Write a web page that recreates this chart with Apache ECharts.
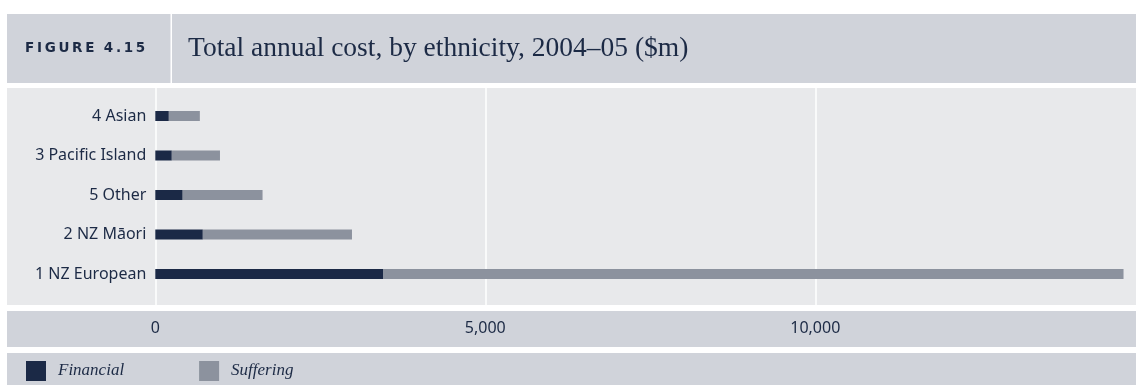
<!DOCTYPE html>
<html>
<head>
<meta charset="utf-8">
<script src="https://cdn.jsdelivr.net/npm/echarts@6/dist/echarts.min.js"></script>
<style>
  html, body { margin: 0; padding: 0; background: #ffffff; overflow: hidden; }
  #chart { width: 1160px; height: 385px; }
</style>
</head>
<body>
<div id="chart"></div>
<script>
// Total annual cost by ethnicity, 2004–05 ($m), split into financial and suffering costs
const categories = ['1 NZ European', '2 NZ Māori', '5 Other', '3 Pacific Island', '4 Asian'];
const financial = [3450, 720, 415, 250, 205];
const suffering = [11220, 2260, 1210, 730, 470];
const seriesNames = ['Financial', 'Suffering'];
const xTicks = { min: 0, max: 15000, interval: 5000 };

const navy = '#1b2946';
const grey = '#8c929e';
const bandBg = '#d0d3da';
const plotBg = '#e8e9eb';
const ink = '#1c2a45';

const chart = echarts.init(document.getElementById('chart'), null, { renderer: 'canvas' });

// the plot runs past the visible right edge so the 15,000 gridline stays out of view
const plotLeft = 155.3;
const pxPerUnit = 330 / 5000;
const plotWidth = xTicks.max * pxPerUnit;
const bandWidth = 1160 - 7;

const option = {
  animation: false,
  backgroundColor: '#ffffff',
  graphic: [
    // header band with divider
    { type: 'rect', z: -10, shape: { x: 7, y: 14, width: bandWidth, height: 69 }, style: { fill: bandBg } },
    { type: 'rect', z: -9, shape: { x: 170.5, y: 14, width: 1.5, height: 69 }, style: { fill: '#ffffff' } },
    { type: 'text', z: 5, left: 25, top: 41, style: {
        text: 'F\u2009I\u2009G\u2009U\u2009R\u2009E\u2002\u20094\u2009.\u20091\u20095',
        font: 'bold 13.5px "DejaVu Sans"', fill: ink } },
    { type: 'text', z: 5, left: 188, top: 34.5, style: {
        text: 'Total annual cost, by ethnicity, 2004–05 ($m)',
        font: '27.5px "Liberation Serif"', fill: ink } },
    // plot band
    { type: 'rect', z: -10, shape: { x: 7, y: 88, width: bandWidth, height: 217 }, style: { fill: plotBg } },
    // axis band
    { type: 'rect', z: -10, shape: { x: 7, y: 311, width: bandWidth, height: 36 }, style: { fill: bandBg } },
    // legend band
    { type: 'rect', z: -10, shape: { x: 7, y: 353, width: bandWidth, height: 32 }, style: { fill: bandBg } }
  ],
  grid: [
    { left: plotLeft, top: 96.25, width: plotWidth, height: 197.5, containLabel: false },
    { left: plotLeft, top: 88, width: plotWidth, height: 217, containLabel: false }
  ],
  xAxis: [
    { type: 'value', gridIndex: 0, min: xTicks.min, max: xTicks.max, interval: xTicks.interval, show: false },
    { type: 'value', gridIndex: 1, min: xTicks.min, max: xTicks.max, interval: xTicks.interval,
      axisLine: { show: false }, axisTick: { show: false },
      splitLine: { show: true, lineStyle: { color: '#ffffff', width: 1.5 } },
      axisLabel: { margin: 15, showMaxLabel: false, color: ink, fontSize: 16, fontFamily: '"Noto Sans"',
        formatter: v => v.toLocaleString('en-US') } }
  ],
  yAxis: [
    { type: 'category', gridIndex: 0, data: categories,
      axisLine: { show: false }, axisTick: { show: false }, splitLine: { show: false },
      axisLabel: { margin: 9, color: ink, fontSize: 16, fontFamily: '"Noto Sans"' } },
    { type: 'value', gridIndex: 1, show: false, min: 0, max: 1 }
  ],
  legend: {
    left: 21, top: 356, itemWidth: 20, itemHeight: 20, itemGap: 75, icon: 'rect',
    data: seriesNames,
    textStyle: { color: ink, fontSize: 17, fontStyle: 'italic', fontFamily: '"Liberation Serif"', padding: [0, 0, 0, 7] }
  },
  series: [
    { name: seriesNames[0], type: 'bar', xAxisIndex: 0, yAxisIndex: 0, stack: 'cost', barWidth: 10,
      itemStyle: { color: navy }, data: financial },
    { name: seriesNames[1], type: 'bar', xAxisIndex: 0, yAxisIndex: 0, stack: 'cost', barWidth: 10,
      itemStyle: { color: grey }, data: suffering }
  ]
};

chart.setOption(option);
</script>
</body>
</html>
